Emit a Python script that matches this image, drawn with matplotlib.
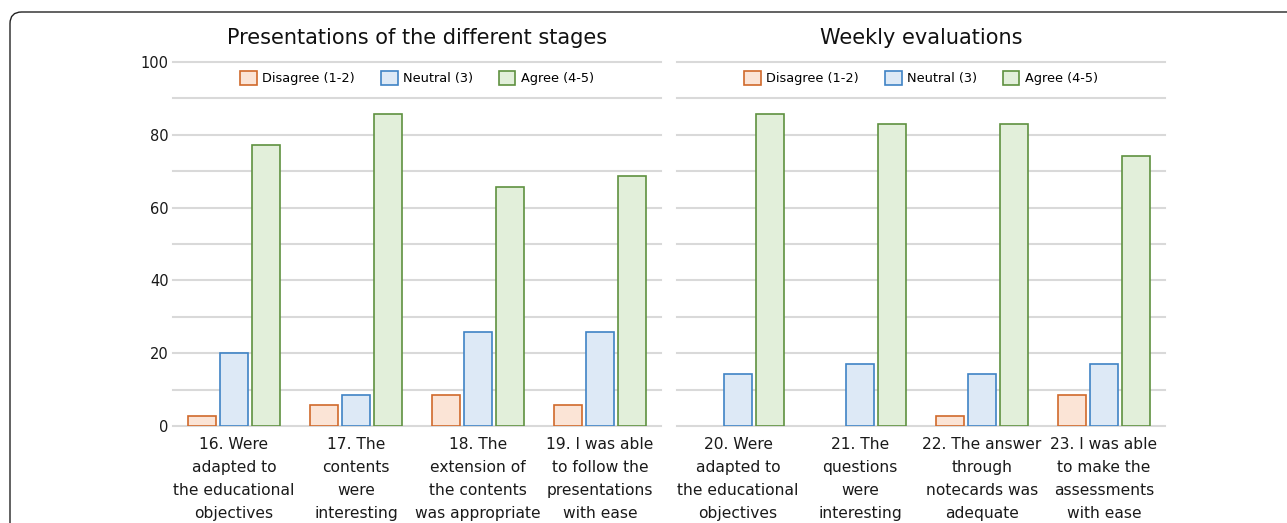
import numpy as np
import matplotlib
matplotlib.use("Agg")
import matplotlib.pyplot as plt
from matplotlib.patches import FancyBboxPatch, Patch

# Survey answers (percent of 35 students)
stage_labels = [
    "16. Were\nadapted to\nthe educational\nobjectives",
    "17. The\ncontents\nwere\ninteresting",
    "18. The\nextension of\nthe contents\nwas appropriate",
    "19. I was able\nto follow the\npresentations\nwith ease",
]
stage_disagree = [2.86, 5.71, 8.57, 5.71]
stage_neutral = [20.0, 8.57, 25.71, 25.71]
stage_agree = [77.14, 85.71, 65.71, 68.57]

weekly_labels = [
    "20. Were\nadapted to\nthe educational\nobjectives",
    "21. The\nquestions\nwere\ninteresting",
    "22. The answer\nthrough\nnotecards was\nadequate",
    "23. I was able\nto make the\nassessments\nwith ease",
]
weekly_disagree = [0.0, 0.0, 2.86, 8.57]
weekly_neutral = [14.29, 17.14, 14.29, 17.14]
weekly_agree = [85.71, 82.86, 82.86, 74.29]

series_names = ["Disagree (1-2)", "Neutral (3)", "Agree (4-5)"]
edge_colors = ["#d0692b", "#3f83c5", "#5f9140"]
face_colors = ["#fbe4d6", "#dde9f6", "#e2efda"]

W, H = 1287, 523
fig = plt.figure(figsize=(W / 100, H / 100), dpi=100)

# rounded frame around the whole figure
frame = FancyBboxPatch((10 / W, -0.2), 1.2, 1 - 12 / H + 0.2,
                       boxstyle="round,pad=0,rounding_size=0.009",
                       transform=fig.transFigure, facecolor="none",
                       edgecolor="#222222", linewidth=1.0, mutation_aspect=W / H)
fig.patches.append(frame)

ax1 = fig.add_axes([173 / W, 97 / H, 488 / W, 364 / H])
ax2 = fig.add_axes([677 / W, 97 / H, 488 / W, 364 / H])

width = 0.23
offset = 0.265


def draw_panel(ax, title, labels, series, show_y):
    x = np.arange(len(labels))
    for i, vals in enumerate(series):
        lw = [0 if v == 0 else 1.2 for v in vals]
        ax.bar(x + (i - 1) * offset, vals, width, color=face_colors[i],
               edgecolor=edge_colors[i], linewidth=lw, zorder=3)
    ax.set_xlim(-0.5, len(labels) - 0.5)
    ax.set_ylim(0, 100)
    ax.set_yticks(np.arange(0, 101, 10))
    ax.set_yticklabels([str(v) if v % 20 == 0 else "" for v in range(0, 101, 10)])
    ax.grid(axis="y", color="#d9d9d9", linewidth=1.5, zorder=0)
    for gl in ax.get_ygridlines():
        gl.set_clip_on(False)
    ax.set_xticks(x)
    ax.set_xticklabels(labels, fontsize=11.2, color="#1a1a1a", linespacing=1.65)
    ax.tick_params(axis="x", length=0, pad=8)
    ax.tick_params(axis="y", length=0, pad=3, labelsize=10.5, labelcolor="#1a1a1a")
    if not show_y:
        ax.tick_params(axis="y", labelleft=False)
    for s in ax.spines.values():
        s.set_visible(False)
    ax.set_title(title, fontsize=15, pad=13, color="#111111")
    handles = [Patch(facecolor=face_colors[i], edgecolor=edge_colors[i], linewidth=1.2)
               for i in range(3)]
    ax.legend(handles, series_names, loc="center", bbox_to_anchor=(0.5, 0.956),
              ncol=3, frameon=False, fontsize=9.3, handlelength=1.3,
              handleheight=1.4, handletextpad=0.4, columnspacing=2.0,
              borderpad=0)


draw_panel(ax1, "Presentations of the different stages", stage_labels,
           [stage_disagree, stage_neutral, stage_agree], True)
draw_panel(ax2, "Weekly evaluations", weekly_labels,
           [weekly_disagree, weekly_neutral, weekly_agree], False)

fig.savefig("out.png", dpi=100)
